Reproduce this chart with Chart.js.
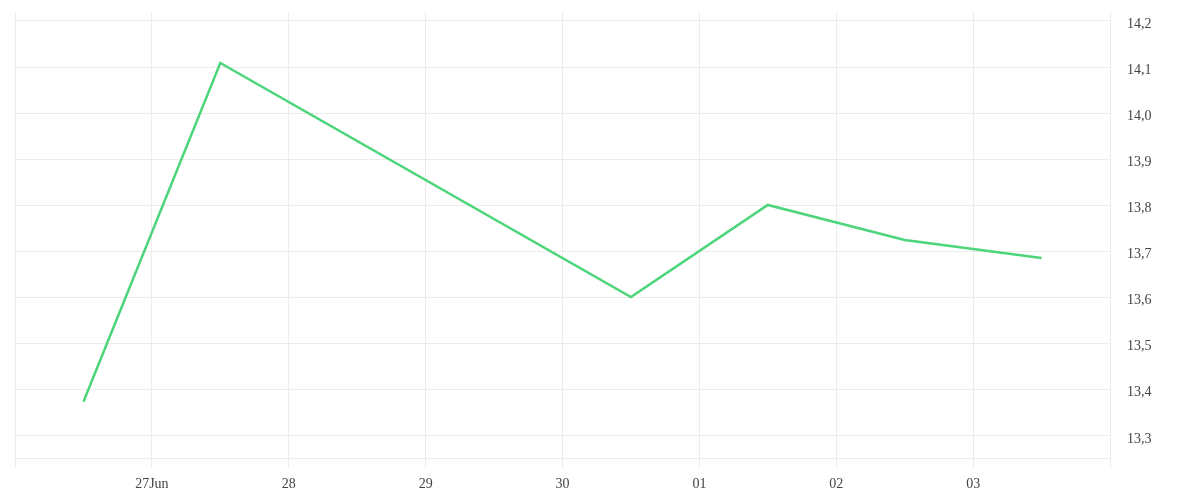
<!DOCTYPE html>
<html lang="es">
<head>
  <meta charset="UTF-8">
  <title>Cotización</title>
  <script src="https://cdn.jsdelivr.net/npm/chart.js"></script>
  <style>
    html, body { margin: 0; padding: 0; background: #fff; }
    #box { width: 1200px; height: 500px; }
  </style>
</head>
<body>
<div id="box"><canvas id="grafico"></canvas></div>
<script>
  // días desde el 26 jun a las 00:00
  const dias = [0.5, 1.5, 4.5, 5.5, 6.5, 7.5];
  const valores = [13.374, 14.109, 13.601, 13.801, 13.725, 13.686];
  const etiquetasX = ["", "27Jun", "28", "29", "30", "01", "02", "03", ""];
  const ticksY = [13.3, 13.4, 13.5, 13.6, 13.7, 13.8, 13.9, 14.0, 14.1, 14.2];

  const rejilla = "#ececec";
  const fuente = { family: "'Liberation Serif', serif", size: 14 };

  new Chart(document.getElementById("grafico"), {
    type: "line",
    data: {
      datasets: [{
        data: dias.map((d, i) => ({ x: d, y: valores[i] })),
        borderColor: "#4cd57a",
        borderWidth: 2.5,
        pointRadius: 0,
        tension: 0,
        fill: false
      }]
    },
    options: {
      responsive: true,
      maintainAspectRatio: false,
      animation: false,
      layout: { padding: { left: 15, top: 12, right: 0, bottom: 0 } },
      plugins: { legend: { display: false }, tooltip: { enabled: false } },
      scales: {
        x: {
          type: "linear",
          min: 0,
          max: 8,
          afterBuildTicks: s => { s.ticks = etiquetasX.map((_, i) => ({ value: i })); },
          afterFit: s => { s.height = 42; s.paddingLeft = 0; s.paddingRight = 0; },
          grid: { color: rejilla, tickLength: 10 },
          border: { color: rejilla },
          ticks: {
            font: fuente,
            color: "#444",
            padding: 8,
            maxRotation: 0,
            callback: v => etiquetasX[v]
          }
        },
        y: {
          position: "right",
          min: 13.252,
          max: 14.2195,
          afterBuildTicks: s => { s.ticks = ticksY.map(v => ({ value: v })); },
          afterFit: s => { s.width = 90; s.paddingTop = 0; s.paddingBottom = 0; },
          grid: { color: rejilla, drawTicks: false },
          border: { color: rejilla },
          ticks: {
            font: fuente,
            color: "#444",
            padding: 17,
            labelOffset: 3,
            callback: v => v.toFixed(1).replace(".", ",")
          }
        }
      }
    }
  });
</script>
</body>
</html>
